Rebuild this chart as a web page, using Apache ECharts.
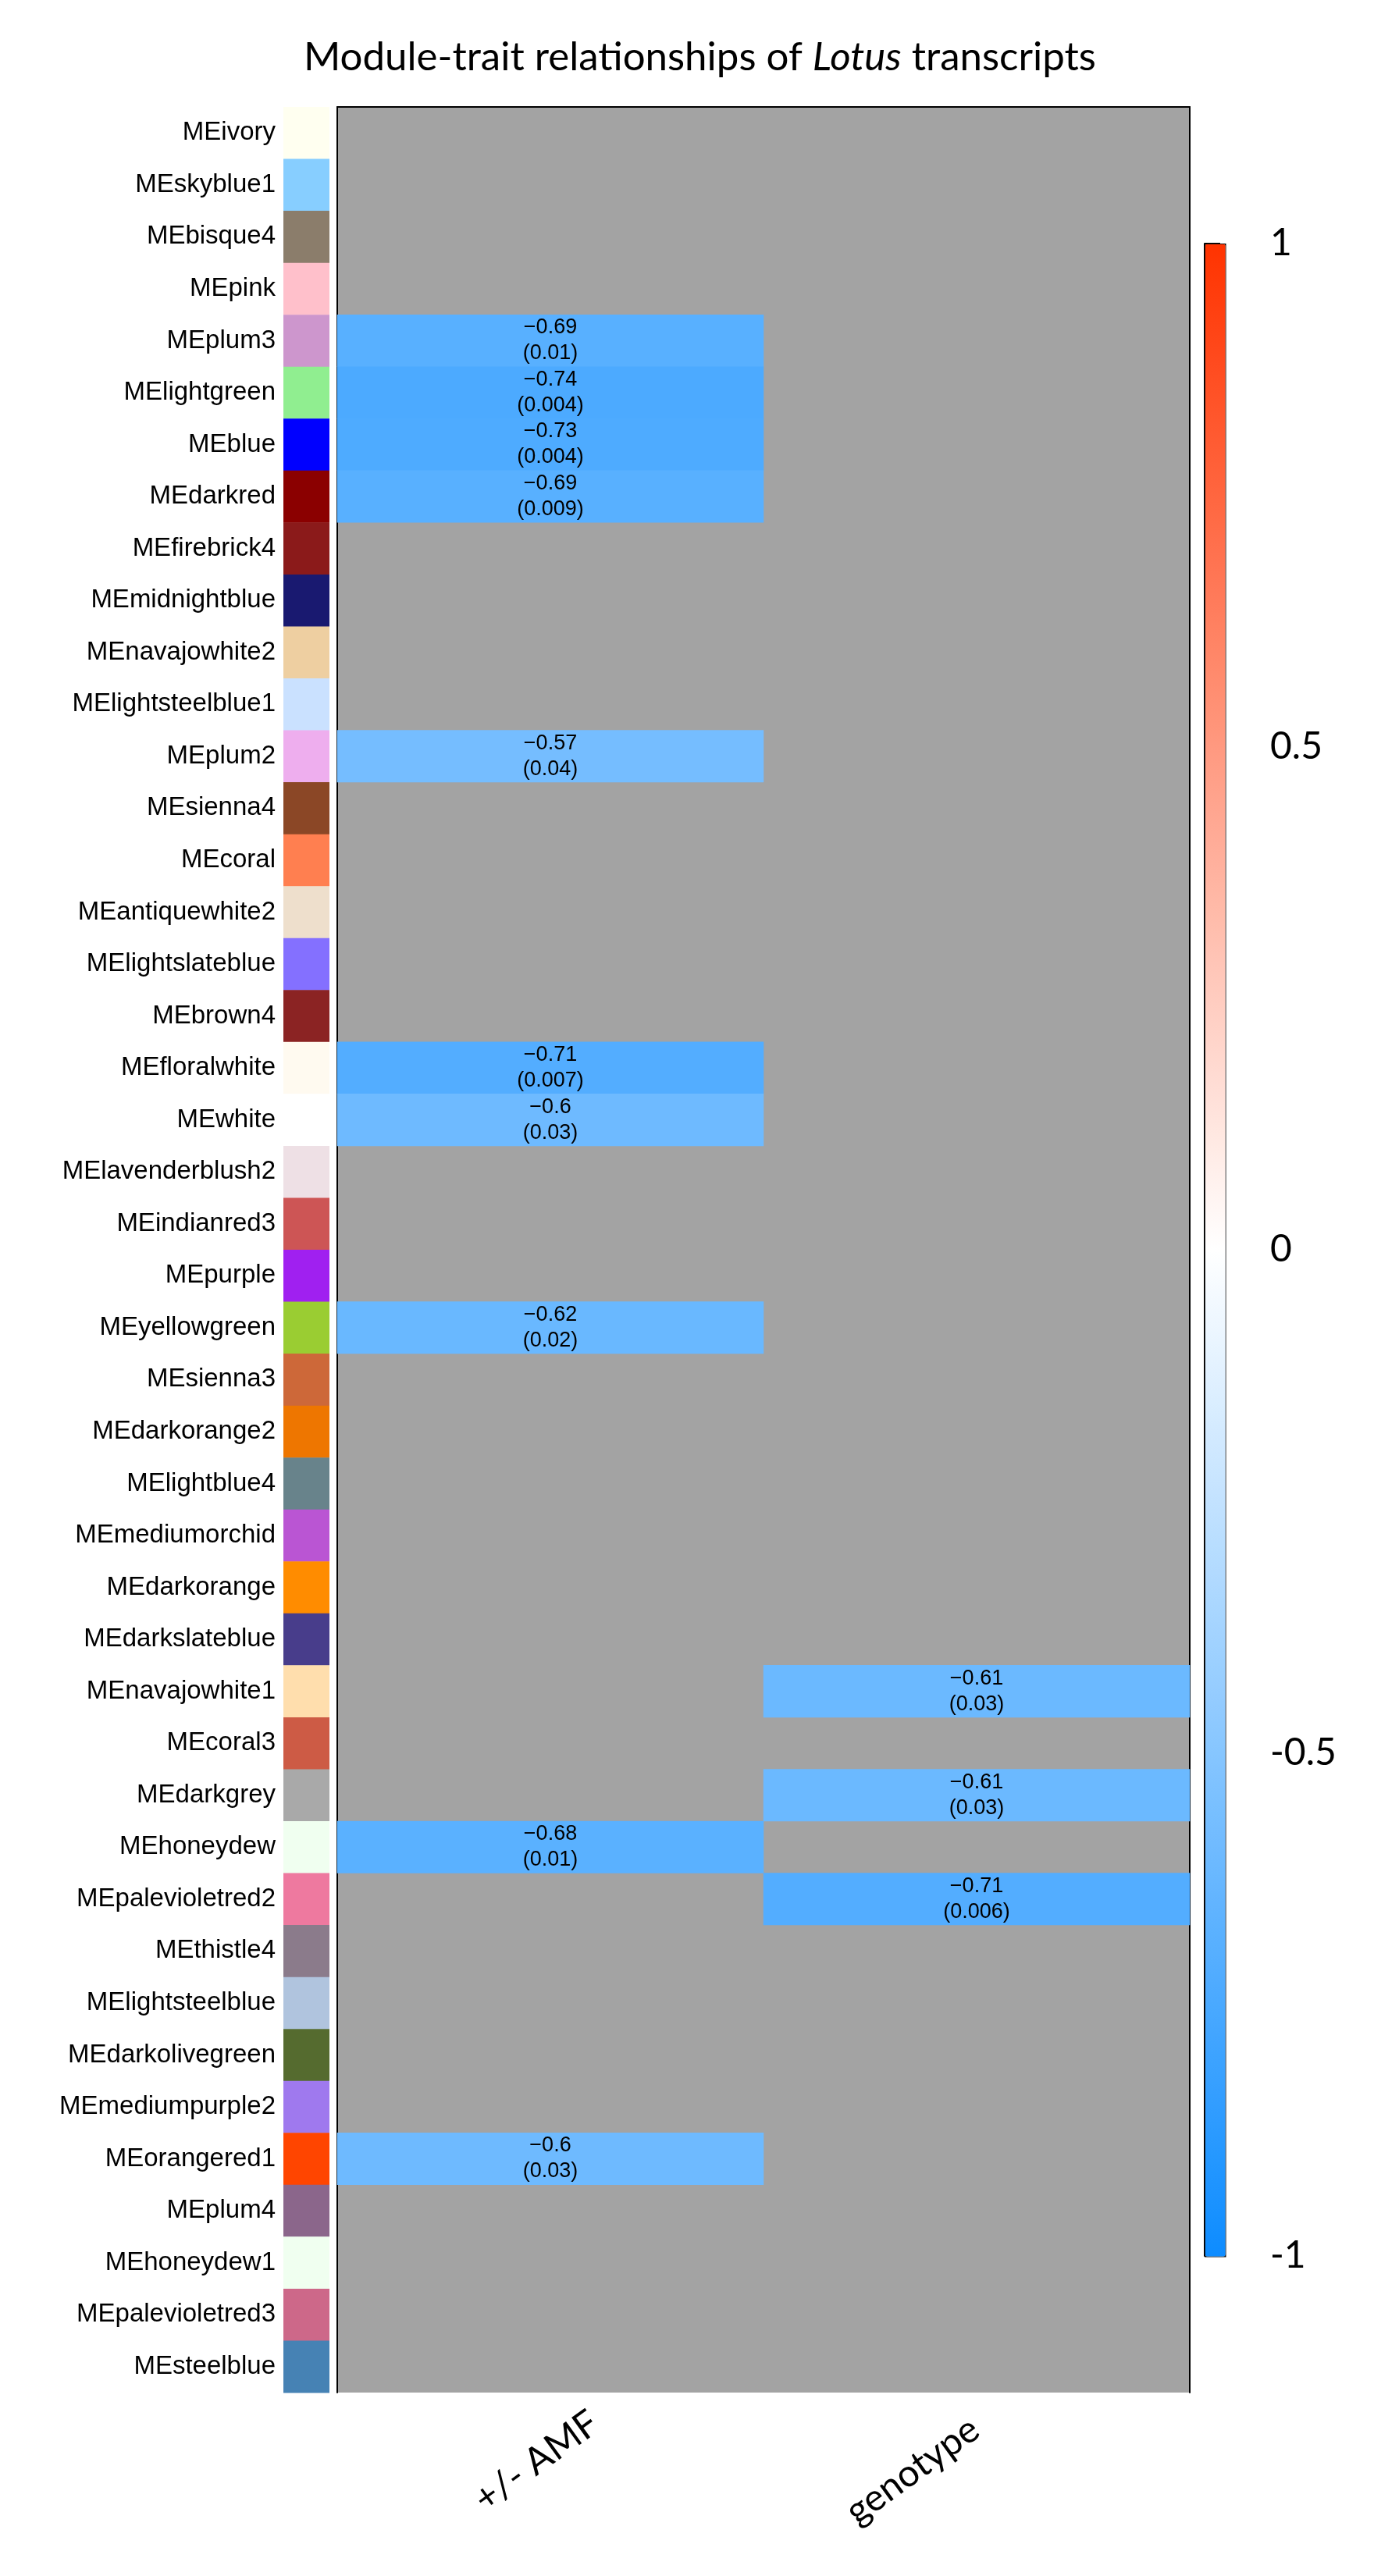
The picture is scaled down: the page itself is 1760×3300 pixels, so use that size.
<!DOCTYPE html>
<html lang="en">
  <head>
    <meta charset="UTF-8" />
    <title>Module-trait relationships</title>
    <script src="https://cdn.jsdelivr.net/npm/echarts@6.0.0/dist/echarts.min.js"></script>
    <style>
      html, body { margin: 0; padding: 0; background: #fff; }
    </style>
  </head>
  <body>
    <div id="main" style="width: 1760px; height: 3300px"></div>
    <script type="text/javascript">
      // module eigengenes, top to bottom
      const modules = [
        "ivory", "skyblue1", "bisque4", "pink", "plum3", "lightgreen", "blue", "darkred",
        "firebrick4", "midnightblue", "navajowhite2", "lightsteelblue1", "plum2", "sienna4",
        "coral", "antiquewhite2", "lightslateblue", "brown4", "floralwhite", "white",
        "lavenderblush2", "indianred3", "purple", "yellowgreen", "sienna3", "darkorange2",
        "lightblue4", "mediumorchid", "darkorange", "darkslateblue", "navajowhite1", "coral3",
        "darkgrey", "honeydew", "palevioletred2", "thistle4", "lightsteelblue", "darkolivegreen",
        "mediumpurple2", "orangered1", "plum4", "honeydew1", "palevioletred3", "steelblue"
      ];
      // R colour of each module
      const moduleColors = [
        "#FFFFF0", "#87CEFF", "#8B7D6B", "#FFC0CB", "#CD96CD", "#90EE90", "#0000FF", "#8B0000",
        "#8B1A1A", "#191970", "#EECFA1", "#CAE1FF", "#EEAEEE", "#8B4726",
        "#FF7F50", "#EEDFCC", "#8470FF", "#8B2323", "#FFFAF0", "#FFFFFF",
        "#EEE0E5", "#CD5555", "#A020F0", "#9ACD32", "#CD6839", "#EE7600",
        "#68838B", "#BA55D3", "#FF8C00", "#483D8B", "#FFDEAD", "#CD5B45",
        "#A9A9A9", "#F0FFF0", "#EE799F", "#8B7B8B", "#B0C4DE", "#556B2F",
        "#9F79EE", "#FF4500", "#8B668B", "#F0FFF0", "#CD6889", "#4682B4"
      ];
      const traits = ["+/- AMF", "genotype"];

      // significant correlations only (null = not significant, shown grey)
      const amfCor = [
        null, null, null, null, -0.69, -0.74, -0.73, -0.69,
        null, null, null, null, -0.57, null,
        null, null, null, null, -0.71, -0.6,
        null, null, null, -0.62, null, null,
        null, null, null, null, null, null,
        null, -0.68, null, null, null, null,
        null, -0.6, null, null, null, null
      ];
      const amfP = [
        null, null, null, null, 0.01, 0.004, 0.004, 0.009,
        null, null, null, null, 0.04, null,
        null, null, null, null, 0.007, 0.03,
        null, null, null, 0.02, null, null,
        null, null, null, null, null, null,
        null, 0.01, null, null, null, null,
        null, 0.03, null, null, null, null
      ];
      const genoCor = [
        null, null, null, null, null, null, null, null,
        null, null, null, null, null, null,
        null, null, null, null, null, null,
        null, null, null, null, null, null,
        null, null, null, null, -0.61, null,
        -0.61, null, -0.71, null, null, null,
        null, null, null, null, null, null
      ];
      const genoP = [
        null, null, null, null, null, null, null, null,
        null, null, null, null, null, null,
        null, null, null, null, null, null,
        null, null, null, null, null, null,
        null, null, null, null, 0.03, null,
        0.03, null, 0.006, null, null, null,
        null, null, null, null, null, null
      ];

      const labels = modules.map((m) => "ME" + m);
      const cells = [];
      [[amfCor, amfP], [genoCor, genoP]].forEach(([cor, p], ci) => {
        cor.forEach((r, ri) => {
          if (r !== null) cells.push({ value: [ci, ri, r], p: p[ri] });
        });
      });

      const plotTop = 137, plotH = 2928;
      let myChart = echarts.init(document.getElementById("main"));
      let options = {
        backgroundColor: "#fff",
        animation: false,
        title: {
          text: "{a|Module-trait relationships of }{b|Lotus}{a| transcripts}",
          left: 384,
          top: 43,
          textStyle: {
            rich: {
              a: { fontFamily: "Lato", fontSize: 51, fontWeight: "normal", color: "#000" },
              b: { fontFamily: "Lato", fontSize: 51, fontWeight: "normal", color: "#000", fontStyle: "italic" },
            },
          },
        },
        grid: [
          { left: 432, top: plotTop, width: 1092, height: plotH, show: true, backgroundColor: "#A3A3A3", borderWidth: 0 },
          { left: 363, top: plotTop, width: 59, height: plotH },
          { left: 1543, top: 312, width: 26, height: 2578 },
        ],
        xAxis: [
          {
            gridIndex: 0, type: "category", data: traits, position: "bottom",
            axisLine: { show: false }, axisTick: { show: false },
            axisLabel: {
              rotate: 36, margin: 75, align: "center", verticalAlign: "middle",
              formatter: (v) => (v === "genotype" ? "{g|" + v + "}" : "{a|" + v + "}"),
              rich: {
                a: { fontFamily: "Lato", fontSize: 48, color: "#000", padding: [0, 44, 0, 0] },
                g: { fontFamily: "Lato", fontSize: 48, color: "#000", padding: [0, 162, 56, 0] },
              },
            },
          },
          {
            gridIndex: 0, type: "category", data: traits, position: "top",
            axisLine: { show: true, lineStyle: { color: "#000", width: 2 } },
            axisTick: { show: false }, axisLabel: { show: false },
          },
          { gridIndex: 1, type: "category", data: [""], show: false },
          { gridIndex: 2, type: "value", min: 0, max: 1, show: false },
        ],
        yAxis: [
          {
            gridIndex: 0, type: "category", data: labels, inverse: true,
            axisLine: { show: true, lineStyle: { color: "#000", width: 2 } },
            axisTick: { show: false }, axisLabel: { show: false },
          },
          {
            gridIndex: 0, type: "category", data: labels, inverse: true, position: "right",
            axisLine: { show: true, lineStyle: { color: "#000", width: 2 } },
            axisTick: { show: false }, axisLabel: { show: false },
          },
          {
            gridIndex: 1, type: "category", data: labels, inverse: true,
            axisLine: { show: false }, axisTick: { show: false },
            axisLabel: { margin: 10, fontFamily: "Liberation Sans", fontSize: 33, color: "#000" },
          },
          {
            gridIndex: 2, type: "value", min: -1, max: 1, interval: 0.5, position: "right",
            splitLine: { show: false },
            axisLine: { show: true, lineStyle: { color: "#000", width: 2 } },
            axisTick: { show: true, length: 20, lineStyle: { color: "#000", width: 2 } },
            axisLabel: {
              margin: 58, align: "left", fontFamily: "Lato", fontSize: 48, color: "#000",
            },
          },
        ],
        visualMap: {
          type: "continuous",
          min: -1,
          max: 1,
          seriesIndex: 0,
          dimension: 2,
          calculable: false,
          orient: "vertical",
          left: 1543,
          top: 312,
          itemWidth: 26,
          itemHeight: 2578,
          padding: 0,
          borderColor: "#000",
          borderWidth: 1.5,
          text: null,
          inRange: { color: ["#0D8CFF", "#FFFFFF", "#FF3300"] },
        },
        series: [
          {
            type: "heatmap",
            xAxisIndex: 0,
            yAxisIndex: 0,
            data: cells,
            label: {
              show: true,
              fontFamily: "Liberation Sans",
              fontSize: 27,
              lineHeight: 33,
              color: "#000",
              formatter: (p) =>
                String(p.data.value[2]).replace("-", "\u2212") + "\n(" + p.data.p + ")",
            },
            emphasis: { disabled: true },
          },
          {
            type: "custom",
            xAxisIndex: 2,
            yAxisIndex: 2,
            data: moduleColors.map((c, i) => [0, i]),
            renderItem: (params, api) => {
              const pt = api.coord([0, api.value(1)]);
              const sz = api.size([1, 1]);
              return {
                type: "rect",
                shape: { x: pt[0] - sz[0] / 2, y: pt[1] - sz[1] / 2, width: sz[0], height: sz[1] + 0.5 },
                style: { fill: moduleColors[params.dataIndex] },
              };
            },
          },
        ],
      };
      myChart.setOption(options);
    </script>
  </body>
</html>
